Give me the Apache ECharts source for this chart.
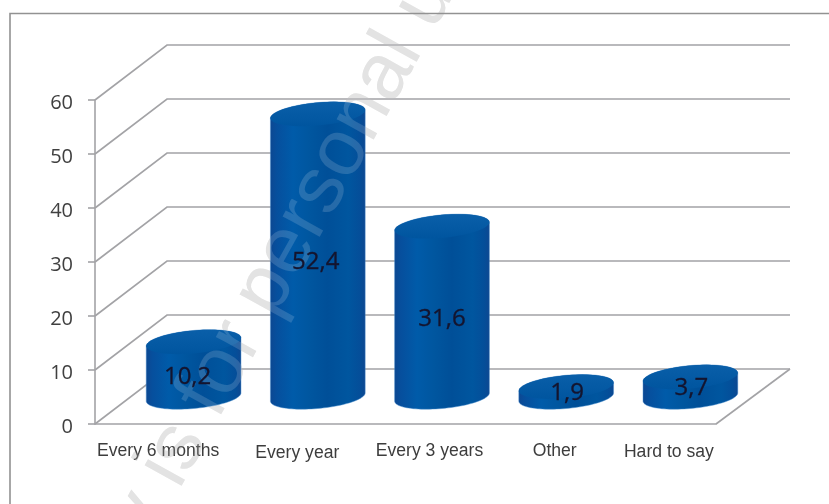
<!DOCTYPE html>
<html>
<head>
<meta charset="utf-8">
<style>html,body{margin:0;padding:0;background:#fff}#chart{width:829px;height:504px}</style>
<script src="https://cdn.jsdelivr.net/npm/echarts@6/dist/echarts.min.js"></script>
</head>
<body>
<div id="chart"></div>
<script>
// Survey answers, percent of respondents
const categories = ['Every 6 months', 'Every year', 'Every 3 years', 'Other', 'Hard to say'];
const shares = [10.2, 52.4, 31.6, 1.9, 3.7];
const yTicks = [0, 10, 20, 30, 40, 50, 60];

// Oblique projection of the chart box
const DEPTH_X = 72, DEPTH_Y = -55;
const RIGHT_OVERHANG = 2;            // back-wall lines run slightly past the floor corner
const BASE_X = 36.5, BASE_Y = -27;   // cylinder axis sits mid-way into the floor
const RADIUS = 44.6, RADIUS_DEPTH = 0.222;
const GRID_LINE = '#a3a3a6';

// Category labels sit a little off their bands
const labelShift = [[1, 0], [16, 1], [24, 0], [25, 0], [15, 0.5]];
// Nudges for the printed values
const valueShift = [[-6, 8], [-2, 7], [0, 7], [1, 1], [1, 1]];

const ellipsePoint = (cx, cy, t) => [
  cx + RADIUS * Math.cos(t) + DEPTH_X * RADIUS_DEPTH * Math.sin(t),
  cy + DEPTH_Y * RADIUS_DEPTH * Math.sin(t)
];
const SIDE_ANGLE = Math.atan2(DEPTH_X * RADIUS_DEPTH, RADIUS);

function arc(cx, cy, from, to) {
  const pts = [];
  for (let k = 0; k <= 48; k++) pts.push(ellipsePoint(cx, cy, from + (to - from) * k / 48));
  return pts;
}

function renderWall(params, api) {
  const y = api.coord([0, api.value(1)])[1];
  const left = params.coordSys.x;
  const right = left + params.coordSys.width;
  const pts = [[left, y], [left + DEPTH_X, y + DEPTH_Y], [right + DEPTH_X + RIGHT_OVERHANG, y + DEPTH_Y]];
  const children = [{
    type: 'polyline', shape: { points: pts },
    style: { stroke: GRID_LINE, lineWidth: 1.6, fill: null }
  }];
  if (api.value(1) === 0) {
    children.push({
      type: 'line',
      shape: { x1: right, y1: y, x2: right + DEPTH_X + RIGHT_OVERHANG, y2: y + DEPTH_Y },
      style: { stroke: GRID_LINE, lineWidth: 1.6 }
    });
  }
  return { type: 'group', children };
}

function renderCylinder(params, api) {
  const idx = api.value(0);
  const foot = api.coord([idx, 0]);
  const head = api.coord([idx, api.value(1)]);
  const cx = foot[0] + BASE_X, cy = foot[1] + BASE_Y;
  const topY = head[1] + BASE_Y;
  const body = arc(cx, cy, SIDE_ANGLE, SIDE_ANGLE - Math.PI)
    .concat(arc(cx, topY, SIDE_ANGLE + Math.PI, SIDE_ANGLE));
  const side = new echarts.graphic.LinearGradient(0, 0, 1, 0, [
    { offset: 0, color: '#0d4791' },
    { offset: 0.07, color: '#064f9d' },
    { offset: 0.24, color: '#005ba9' },
    { offset: 0.42, color: '#00569f' },
    { offset: 0.6, color: '#004f98' },
    { offset: 0.82, color: '#00569f' },
    { offset: 0.94, color: '#044e99' },
    { offset: 1, color: '#0e4790' }
  ]);
  const lid = new echarts.graphic.LinearGradient(0, 0, 0, 1, [
    { offset: 0, color: '#0a5fa9' },
    { offset: 1, color: '#00559f' }
  ]);
  return {
    type: 'group',
    children: [
      { type: 'polygon', shape: { points: body }, style: { fill: side, stroke: 'rgba(70,140,205,0.45)', lineWidth: 1 } },
      { type: 'polygon', shape: { points: arc(cx, topY, 0, Math.PI * 2) }, style: { fill: lid } }
    ]
  };
}

function renderValue(params, api) {
  const idx = api.value(0);
  const foot = api.coord([idx, 0]);
  const head = api.coord([idx, api.value(1)]);
  return {
    type: 'text',
    x: foot[0] + BASE_X + valueShift[idx][0],
    y: (foot[1] + head[1]) / 2 + BASE_Y + valueShift[idx][1],
    style: {
      text: String(api.value(1)).replace('.', ','),
      fill: '#14142e',
      stroke: '#14142e',
      lineWidth: 0.3,
      font: '24px "Open Sans"',
      textAlign: 'center',
      textVerticalAlign: 'middle'
    }
  };
}

// Diagonal overprint: a flat grey pass under the marks, a faint light pass over them
const overprint = (fill, z) => ({
  type: 'text',
  x: 18, y: 818, rotation: 61 * Math.PI / 180, z,
  silent: true,
  style: {
    text: 'This copy is for personal use only',
    font: '80px "Liberation Sans"',
    fill,
    textAlign: 'left',
    textVerticalAlign: 'bottom'
  }
});

const rich = {};
labelShift.forEach((s, i) => {
  rich['c' + i] = {
    fontFamily: 'Liberation Sans', fontSize: 17.6, color: '#3d3d3d',
    padding: [s[1] * 2, 0, 0, s[0] * 2]
  };
});

const chart = echarts.init(document.getElementById('chart'));
chart.setOption({
  animation: false,
  backgroundColor: '#fff',
  grid: { left: 95, right: 113, top: 100, bottom: 80 },
  xAxis: {
    type: 'category',
    data: categories,
    axisLine: { lineStyle: { color: GRID_LINE, width: 1.6 } },
    axisTick: { length: 7, lineStyle: { color: GRID_LINE, width: 1.6 } },
    axisLabel: {
      interval: 0,
      margin: 18,
      formatter: (v, i) => `{c${i}|${v}}`,
      rich
    }
  },
  yAxis: {
    type: 'value',
    min: 0, max: 60, interval: 10,
    axisLine: { show: true, lineStyle: { color: GRID_LINE, width: 1.6 } },
    axisTick: { show: true, length: 7, lineStyle: { color: GRID_LINE, width: 1.6 } },
    splitLine: { show: false },
    axisLabel: {
      margin: 22,
      formatter: v => `{n|${v}}`,
      rich: { n: { fontFamily: 'Open Sans', fontSize: 20, color: '#404040', padding: [6, 0, 0, 0] } }
    }
  },
  graphic: {
    elements: [
      overprint('#dedede', -1),
      overprint('rgba(255,255,255,0.15)', 3),
      {
        type: 'polyline', z: 4, silent: true,
        shape: { points: [[10, 504], [10, 13.5], [829, 13.5]] },
        style: { stroke: '#929292', lineWidth: 1.6, fill: null }
      }
    ]
  },
  series: [
    {
      type: 'custom', z: 1, silent: true,
      renderItem: renderWall,
      encode: { x: 0, y: 1 },
      data: yTicks.map(v => [0, v])
    },
    {
      type: 'custom', z: 2, silent: true,
      renderItem: renderCylinder,
      encode: { x: 0, y: 1 },
      data: shares.map((v, i) => [i, v])
    },
    {
      type: 'custom', z: 5, silent: true,
      renderItem: renderValue,
      encode: { x: 0, y: 1 },
      data: shares.map((v, i) => [i, v])
    }
  ]
});
</script>
</body>
</html>
